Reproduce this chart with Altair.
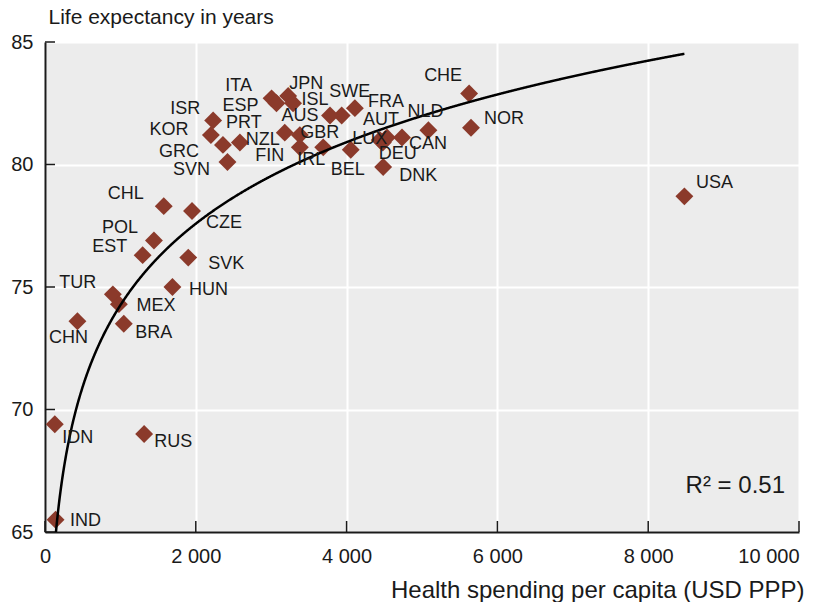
import altair as alt
import pandas as pd

countries = ["USA", "NOR", "CHE", "NLD", "CAN", "AUT", "DEU", "LUX", "DNK", "BEL",
             "FRA", "SWE", "AUS", "IRL", "GBR", "FIN", "NZL", "JPN", "ISL", "ITA",
             "ESP", "PRT", "GRC", "KOR", "ISR", "SVN", "CHL", "CZE", "POL", "EST",
             "SVK", "HUN", "TUR", "MEX", "BRA", "CHN", "IDN", "RUS", "IND"]
spending = [8480, 5650, 5625, 5085, 4735, 4535, 4480, 4440, 4485, 4055,
            4110, 3935, 3780, 3690, 3380, 3380, 3180, 3225, 3290, 3005,
            3070, 2585, 2360, 2200, 2230, 2420, 1575, 1950, 1445, 1295,
            1900, 1690, 900, 980, 1045, 430, 130, 1315, 140]
life_exp = [78.7, 81.5, 82.9, 81.4, 81.1, 81.1, 80.9, 81.0, 79.9, 80.6,
            82.3, 82.0, 82.0, 80.7, 81.2, 80.7, 81.3, 82.8, 82.5, 82.7,
            82.5, 80.9, 80.8, 81.2, 81.8, 80.1, 78.3, 78.1, 76.9, 76.3,
            76.2, 75.0, 74.7, 74.3, 73.5, 73.6, 69.4, 69.0, 65.5]

x_ticks = [0, 2000, 4000, 6000, 8000, 10000]
y_ticks = [65, 70, 75, 80, 85]
x_domain = [0, 10000]
y_domain = [65, 85]

# logarithmic trend line: life = a + b * ln(spending)
trend_a = 41.1
trend_b = 4.8
r2_text = "R² = 0.51"

# label placement (pixel offset of label centre from its marker)
label_offsets = {
    "USA": (30, -13), "NOR": (33, -9), "CHE": (-26, -17), "NLD": (-3, -18),
    "CAN": (26, 6), "AUT": (-6, -18), "DEU": (15, 12), "LUX": (-10, -1),
    "DNK": (35, 9), "BEL": (-3, 20), "FRA": (31, -6), "SWE": (8, -24),
    "AUS": (-30, 0), "IRL": (-12, 13), "GBR": (20, -2), "FIN": (-30, 9),
    "NZL": (-22, 7), "JPN": (18, -12), "ISL": (22, -3), "ITA": (-33, -12),
    "ESP": (-36, 3), "PRT": (4, -19), "GRC": (-44, 7), "KOR": (-42, -5),
    "ISR": (-28, -11), "SVN": (-36, 8), "CHL": (-38, -12), "CZE": (32, 12),
    "POL": (-34, -12), "EST": (-33, -8), "SVK": (38, 6), "HUN": (36, 3),
    "TUR": (-35, -11), "MEX": (37, 2), "BRA": (30, 9), "CHN": (-9, 17),
    "IDN": (23, 14), "RUS": (29, 8), "IND": (30, 1),
}

FONT = "Liberation Sans"
INK = "#1a1a1a"
POINT = "#8b3a2b"
W, H = 754, 490

df = pd.DataFrame({"country": countries, "spend": spending, "life": life_exp})
df["dx"] = [label_offsets[c][0] for c in countries]
df["dy"] = [label_offsets[c][1] for c in countries]

x_scale = alt.Scale(domain=x_domain, nice=False, zero=False)
y_scale = alt.Scale(domain=y_domain, nice=False, zero=False)

x_enc = alt.X(
    "spend:Q",
    scale=x_scale,
    axis=alt.Axis(
        values=x_ticks,
        labelExpr="replace(format(datum.value, ','), ',', ' ')",
        labelFontSize=20, labelFont=FONT, labelColor=INK, labelPadding=14,
        labelAlign=alt.condition("datum.value >= 10000", alt.value("right"), alt.value("center")),
        ticks=False, grid=True, gridColor="white", gridWidth=2,
        domainColor=INK, domainWidth=2,
        title="Health spending per capita (USD PPP)",
        titleFont=FONT, titleFontSize=24, titleFontWeight="normal", titleColor=INK,
        titleAnchor="end", titleAlign="right", titleBaseline="alphabetic",
        titleX=759, titleY=65,
    ),
)
y_enc = alt.Y(
    "life:Q",
    scale=y_scale,
    axis=alt.Axis(
        values=y_ticks,
        labelFontSize=20, labelFont=FONT, labelColor=INK, labelPadding=12,
        ticks=False, grid=True, gridColor="white", gridWidth=2,
        domainColor=INK, domainWidth=2,
        title="Life expectancy in years",
        titleFont=FONT, titleFontSize=21, titleFontWeight="normal", titleColor=INK,
        titleAngle=0, titleAnchor="start", titleAlign="left", titleBaseline="alphabetic",
        titleX=3, titleY=-19,
    ),
)

base = alt.Chart(df)

points = base.mark_point(shape="diamond", filled=True, size=320, color=POINT, opacity=1).encode(
    x=x_enc, y=y_enc
)

x_per_px = (x_domain[1] - x_domain[0]) / W
y_per_px = (y_domain[1] - y_domain[0]) / H

labels = base.transform_calculate(
    spend=f"datum.spend + datum.dx * {x_per_px}",
    life=f"datum.life - datum.dy * {y_per_px}",
).mark_text(font=FONT, fontSize=18, color=INK, align="center", baseline="middle").encode(
    x=x_enc, y=y_enc, text="country:N"
)

fit = alt.Chart(alt.sequence(min(spending), max(spending) + 1, 5, as_="spend")).transform_calculate(
    life=f"{trend_a} + {trend_b} * log(datum.spend)"
).mark_line(color="black", strokeWidth=2.5, clip=True).encode(x=x_enc, y=y_enc)

xtick_df = pd.DataFrame({"spend": x_ticks})
ytick_df = pd.DataFrame({"life": y_ticks})
xticks = alt.Chart(xtick_df).mark_rule(color=INK, strokeWidth=1.5).encode(
    x=x_enc, y=alt.value(H), y2=alt.value(H - 11)
)
yticks = alt.Chart(ytick_df).mark_rule(color=INK, strokeWidth=1.5).encode(
    y=y_enc, x=alt.value(0), x2=alt.value(10)
)

r2 = alt.Chart(pd.DataFrame({"t": [r2_text]})).mark_text(
    font=FONT, fontSize=24, color=INK, align="right", baseline="alphabetic"
).encode(x=alt.value(740), y=alt.value(451), text="t:N")

chart = alt.layer(points, fit, labels, xticks, yticks, r2).properties(
    width=W, height=H,
    background="white",
    autosize=alt.AutoSizeParams(type="none"),
    padding={"left": 37, "top": 34, "right": 9, "bottom": 70},
).configure_view(fill="#ececec", strokeWidth=0)

chart.save("out.html", embed_options={"renderer": "svg", "actions": False})
